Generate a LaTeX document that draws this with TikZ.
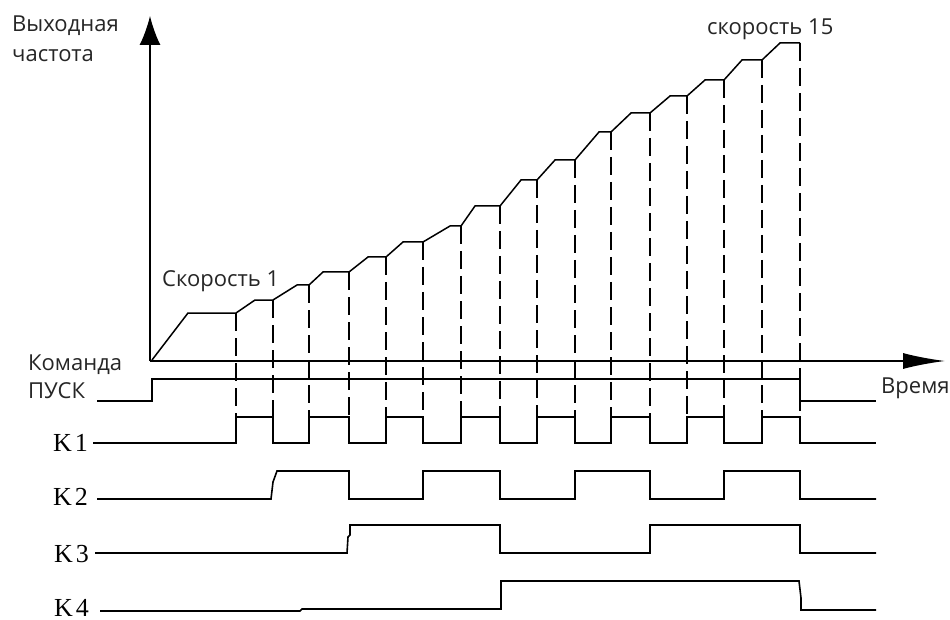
\documentclass[tikz,border=0pt]{standalone}
\usepackage{fontspec}
\setmainfont{Liberation Serif}
\newfontfamily\labfont{Open Sans}
\usetikzlibrary{arrows.meta}
\begin{document}
\begin{tikzpicture}[x=1pt,y=-1pt,
  axis/.style={line width=1.6pt},
  sig/.style={line width=1.6pt, line join=miter},
  stair/.style={line width=1.5pt, line join=miter},
  guide/.style={line width=1.6pt, dash pattern=on 18pt off 7pt},
  lab/.style={font=\labfont\fontsize{22}{22}\selectfont, text=black!85, inner sep=0pt, anchor=base west},
  klab/.style={font=\fontsize{26}{26}\selectfont, inner sep=0pt, anchor=base west}]
\useasboundingbox[fill=white] (0,0) rectangle (950,620);

% axes
\coordinate (O) at (150,361);
\coordinate (Ytip) at (150,16);
\coordinate (Xtip) at (945,361);
\draw[axis,-{Latex[length=29pt,width=21pt]}] (O) -- (Ytip);
\draw[axis,-{Latex[length=42pt,width=16pt]}] (O) -- (Xtip);

% staircase of output frequency
\draw[stair] (152,360) -- (188,313) -- (236,313) -- (255,300) -- (273,300)
  -- (297,285) -- (309,285) -- (323,272) -- (349,272) -- (368,257) -- (386,257)
  -- (403,242) -- (423,242) -- (450,226) -- (461,226) -- (475,206) -- (500,206)
  -- (521,180) -- (537,180) -- (555,160) -- (575,160) -- (599,132) -- (611,132)
  -- (631,113) -- (650,113) -- (670,96) -- (687,96) -- (705,80) -- (724,80)
  -- (742,60) -- (762,60) -- (780,43) -- (800,43);

% dashed guide lines
\foreach \x/\y in {236/313,273/300,309/285,349/272,386/257,423/242,461/226,500/206,
  537/180,575/160,611/132,650/113,687/96,724/80,762/60,800/43}
  \draw[guide] (\x,\y) -- (\x,417);

% run command
\draw[sig] (97,401) -- (152,401) -- (152,379) -- (800,379) -- (800,401) -- (876,401);

% K1
\draw[sig] (93,443) -- (236,443) -- (236,417) -- (273,417) -- (273,443) -- (309,443)
  -- (309,417) -- (349,417) -- (349,443) -- (386,443) -- (386,417) -- (423,417)
  -- (423,443) -- (461,443) -- (461,417) -- (500,417) -- (500,443) -- (537,443)
  -- (537,417) -- (575,417) -- (575,443) -- (611,443) -- (611,417) -- (650,417)
  -- (650,443) -- (687,443) -- (687,417) -- (724,417) -- (724,443) -- (762,443)
  -- (762,417) -- (800,417) -- (800,443) -- (876,443);

% K2
\draw[sig] (97,499) -- (271,499) -- (273,482) -- (277,471) -- (349,471) -- (349,499)
  -- (423,499) -- (423,471) -- (500,471) -- (500,499) -- (575,499) -- (575,471)
  -- (650,471) -- (650,499) -- (724,499) -- (724,471) -- (800,471) -- (800,499)
  -- (876,499);

% K3
\draw[sig] (95,553) -- (347,553) -- (348,537) -- (350,535) -- (350,525) -- (500,525)
  -- (500,553) -- (650,553) -- (650,525) -- (800,525) -- (800,553) -- (876,553);

% K4
\draw[sig] (100,611) -- (300,611) -- (302,609) -- (501,609) -- (501,581) -- (799,581)
  -- (801,598) -- (801,610) -- (876,610);

% labels
\node[lab] (yl1) at (12,32) {Выходная};
\node[lab] (yl2) at (12,62) {частота};
\node[lab] (cmd1) at (28,370) {Команда};
\node[lab] (cmd2) at (28,398) {ПУСК};
\node[lab] (sp1) at (162,287) {Скорость 1};
\node[lab] (sp15) at (707,35) {скорость 15};
\node[lab] (tl) at (881,393) {Время};
\node[klab] (k1) at (53,451) {K\hspace{3pt}1};
\node[klab] (k2) at (53,505) {K\hspace{3pt}2};
\node[klab] (k3) at (54,562) {K\hspace{3pt}3};
\node[klab] (k4) at (54,616) {K\hspace{3pt}4};
\end{tikzpicture}
\end{document}
